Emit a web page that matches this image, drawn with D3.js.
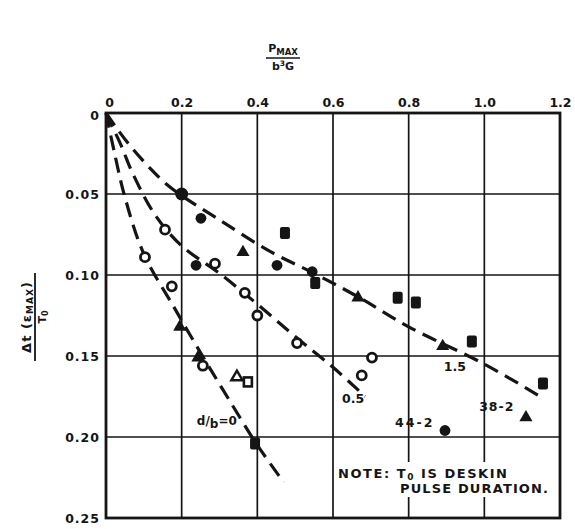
<!DOCTYPE html>
<html>
<head>
<meta charset="utf-8">
<script src="https://cdn.jsdelivr.net/npm/d3@7/dist/d3.min.js"></script>
<style>
  body { margin: 0; background: #fff; }
  svg { display: block; }
  text { font-family: "DejaVu Sans", sans-serif; font-weight: bold; fill: #151515; }
</style>
</head>
<body>
<div id="chart"></div>
<script>
// tick values and labels
const xTicks = [0, 0.2, 0.4, 0.6, 0.8, 1.0, 1.2];
const xTickLabels = ["0", "0.2", "0.4", "0.6", "0.8", "1.0", "1.2"];
const yTicks = [0, 0.05, 0.10, 0.15, 0.20, 0.25];
const yTickLabels = ["0", "0.05", "0.10", "0.15", "0.20", "0.25"];

// faired dashed curves, [P/b3G, dt/T0]
const curveDb0 = [[0, 0], [0.02, 0.022], [0.05, 0.052], [0.1, 0.087], [0.18, 0.12], [0.25, 0.148], [0.32, 0.175], [0.4, 0.205], [0.47, 0.228]];
const curveDb05 = [[0, 0], [0.02, 0.01], [0.04, 0.02], [0.07, 0.037], [0.13, 0.063], [0.2, 0.082], [0.3, 0.099], [0.4, 0.118], [0.5, 0.138], [0.6, 0.157], [0.685, 0.175]];
const curveDb15 = [[0, 0], [0.03, 0.01], [0.07, 0.022], [0.12, 0.035], [0.16, 0.044], [0.2, 0.051], [0.3, 0.066], [0.43, 0.085], [0.55, 0.099], [0.67, 0.114], [0.8, 0.132], [1.0, 0.155], [1.155, 0.176]];

// test points by symbol
const openCircles = [[0.103, 0.089], [0.156, 0.072], [0.174, 0.107], [0.288, 0.093], [0.367, 0.111], [0.40, 0.125], [0.505, 0.142], [0.676, 0.162], [0.703, 0.151], [0.256, 0.156]];
const filledCircles = [[0.2, 0.05], [0.251, 0.065], [0.238, 0.094], [0.452, 0.094], [0.545, 0.098], [0.896, 0.196]];
const filledSquares = [[0.473, 0.074], [0.553, 0.105], [0.771, 0.114], [0.819, 0.117], [0.967, 0.141], [1.155, 0.167], [0.394, 0.204]];
const filledTriangles = [[0.195, 0.132], [0.243, 0.151], [0.362, 0.086], [0.666, 0.114], [0.890, 0.144], [1.11, 0.188]];
const openTriangles = [[0.346, 0.163]];
const openSquares = [[0.375, 0.166]];

const W = 575, H = 529;
const ink = "#151515";

const svg = d3.select("#chart").append("svg")
  .attr("width", W)
  .attr("height", H);

const x = d3.scaleLinear().domain([0, 1.2]).range([106, 560]);
const y = d3.scaleLinear().domain([0, 0.25]).range([113, 518]);

// grid
svg.append("g")
  .selectAll("line")
  .data(xTicks.slice(1, -1))
  .join("line")
  .attr("x1", d => x(d)).attr("x2", d => x(d))
  .attr("y1", y(0)).attr("y2", y(0.25))
  .attr("stroke", ink).attr("stroke-width", 1.7);

svg.append("g")
  .selectAll("line")
  .data(yTicks.slice(1, -1))
  .join("line")
  .attr("x1", x(0)).attr("x2", x(1.2))
  .attr("y1", d => y(d)).attr("y2", d => y(d))
  .attr("stroke", ink).attr("stroke-width", 1.7);

// white patch behind the note
svg.append("rect")
  .attr("x", 335).attr("y", 462)
  .attr("width", 218).attr("height", 35)
  .attr("fill", "#fff");

// frame
svg.append("rect")
  .attr("x", x(0)).attr("y", y(0))
  .attr("width", x(1.2) - x(0)).attr("height", y(0.25) - y(0))
  .attr("fill", "none").attr("stroke", ink).attr("stroke-width", 2.8);

// axes: tick labels only
const xAxis = d3.axisTop(x)
  .tickValues(xTicks)
  .tickSize(0)
  .tickPadding(6)
  .tickFormat((d, i) => xTickLabels[i]);

const gx = svg.append("g")
  .attr("transform", `translate(0,${y(0)})`)
  .call(xAxis);
gx.select(".domain").remove();
gx.selectAll("text")
  .style("font-size", "12.5px")
  .style("font-family", "'DejaVu Sans', sans-serif")
  .style("font-weight", "bold")
  .attr("fill", ink);
gx.selectAll(".tick").filter(d => d === 0).select("text").attr("dx", 3);

const yAxis = d3.axisLeft(y)
  .tickValues(yTicks)
  .tickSize(0)
  .tickPadding(6)
  .tickFormat((d, i) => yTickLabels[i]);

const gy = svg.append("g")
  .attr("transform", `translate(${x(0)},0)`)
  .call(yAxis);
gy.select(".domain").remove();
gy.selectAll("text")
  .style("font-size", "12.5px")
  .style("font-family", "'DejaVu Sans', sans-serif")
  .style("font-weight", "bold")
  .style("letter-spacing", "1px")
  .attr("fill", ink);
gy.selectAll(".tick").filter(d => d === 0).select("text").attr("dy", "0.55em");

// x title  P_MAX / b3G
const tx = 283;
const title = svg.append("text").attr("x", tx).attr("y", 52)
  .attr("text-anchor", "middle").style("font-size", "11px");
title.append("tspan").text("P");
title.append("tspan").attr("dy", 3).style("font-size", "8.5px").text("MAX");
svg.append("line")
  .attr("x1", tx - 17).attr("x2", tx + 17)
  .attr("y1", 58).attr("y2", 58)
  .attr("stroke", ink).attr("stroke-width", 1.6);
const den = svg.append("text").attr("x", tx).attr("y", 70)
  .attr("text-anchor", "middle").style("font-size", "11px");
den.append("tspan").text("b");
den.append("tspan").attr("dy", -4).style("font-size", "7.5px").text("3");
den.append("tspan").attr("dy", 4).text("G");

// y title  dt(eps_MAX) / T0
const yt = svg.append("g").attr("transform", "translate(0,317) rotate(-90)");
const num = yt.append("text").attr("x", 0).attr("y", 31)
  .attr("text-anchor", "middle").style("font-size", "13px")
  .style("letter-spacing", "1px");
num.append("tspan").text("Δt (ε");
num.append("tspan").attr("dy", 2).style("font-size", "9px").text("MAX");
num.append("tspan").attr("dy", -2).text(")");
yt.append("line")
  .attr("x1", -44).attr("x2", 44)
  .attr("y1", 35).attr("y2", 35)
  .attr("stroke", ink).attr("stroke-width", 1.8);
const yden = yt.append("text").attr("x", 0).attr("y", 46)
  .attr("text-anchor", "middle").style("font-size", "11px");
yden.append("tspan").text("T");
yden.append("tspan").attr("dy", 2).style("font-size", "8px").text("0");

// dashed curves
const line = d3.line()
  .x(d => x(d[0]))
  .y(d => y(d[1]))
  .curve(d3.curveCatmullRom.alpha(0.5));

[curveDb0, curveDb05, curveDb15].forEach(c => {
  svg.append("path")
    .datum(c)
    .attr("d", line)
    .attr("fill", "none")
    .attr("stroke", ink)
    .attr("stroke-width", 3.2)
    .attr("stroke-dasharray", "15,8");
});

// markers
svg.append("g").selectAll("circle")
  .data(openCircles).join("circle")
  .attr("cx", d => x(d[0])).attr("cy", d => y(d[1]))
  .attr("r", 4.5)
  .attr("fill", "#fff").attr("stroke", ink).attr("stroke-width", 2.8);

svg.append("g").selectAll("circle")
  .data(filledCircles).join("circle")
  .attr("cx", d => x(d[0])).attr("cy", d => y(d[1]))
  .attr("r", (d, i) => i === 0 ? 6.5 : 5.4)
  .attr("fill", ink);

svg.append("g").selectAll("rect")
  .data(filledSquares).join("rect")
  .attr("x", d => x(d[0]) - 5).attr("y", d => y(d[1]) - 6)
  .attr("width", 10).attr("height", 12).attr("rx", 2)
  .attr("fill", ink);

const tri = d3.symbol().type(d3.symbolTriangle).size(75);
svg.append("g").selectAll("path")
  .data(filledTriangles).join("path")
  .attr("transform", d => `translate(${x(d[0])},${y(d[1])})`)
  .attr("d", tri)
  .attr("fill", ink);

svg.append("g").selectAll("path")
  .data(openTriangles).join("path")
  .attr("transform", d => `translate(${x(d[0])},${y(d[1])})`)
  .attr("d", d3.symbol().type(d3.symbolTriangle).size(55))
  .attr("fill", "#fff").attr("stroke", ink).attr("stroke-width", 2.4);

svg.append("g").selectAll("rect")
  .data(openSquares).join("rect")
  .attr("x", d => x(d[0]) - 4).attr("y", d => y(d[1]) - 4.5)
  .attr("width", 8).attr("height", 9)
  .attr("fill", "#fff").attr("stroke", ink).attr("stroke-width", 2.6);

// curve labels
const db = svg.append("text")
  .attr("x", x(0.293)).attr("y", y(0.190) + 4)
  .attr("text-anchor", "middle").style("font-size", "12px");
db.append("tspan").text("d/");
db.append("tspan").attr("dy", 3).text("b");
db.append("tspan").attr("dy", -3).text("=0");

svg.append("text").attr("x", x(0.653)).attr("y", y(0.176) + 5)
  .attr("text-anchor", "middle").style("font-size", "12.5px").text("0.5");
svg.append("text").attr("x", x(0.922)).attr("y", y(0.156) + 5)
  .attr("text-anchor", "middle").style("font-size", "12.5px").text("1.5");
svg.append("text").attr("x", x(0.816)).attr("y", y(0.191) + 5)
  .attr("text-anchor", "middle").style("font-size", "12.5px")
  .style("letter-spacing", "2px").text("44-2");
svg.append("text").attr("x", x(1.033)).attr("y", y(0.181) + 5)
  .attr("text-anchor", "middle").style("font-size", "12.5px")
  .style("letter-spacing", "1px").text("38-2");

// note
const note1 = svg.append("text").attr("x", 338).attr("y", 478)
  .style("font-size", "13px")
  .attr("textLength", 169).attr("lengthAdjust", "spacing");
note1.append("tspan").text("NOTE: T");
note1.append("tspan").attr("dy", 2).style("font-size", "9px").text("0");
note1.append("tspan").attr("dy", -2).text(" IS DESKIN");
svg.append("text").attr("x", 400).attr("y", 493)
  .style("font-size", "13px")
  .attr("textLength", 148).attr("lengthAdjust", "spacing")
  .text("PULSE DURATION.");
</script>
</body>
</html>
